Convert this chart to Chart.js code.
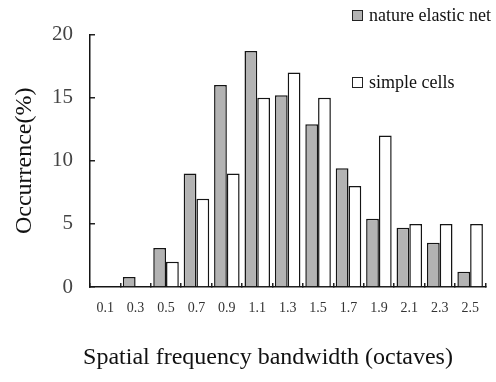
<!DOCTYPE html>
<html>
<head>
<meta charset="utf-8">
<script src="https://cdn.jsdelivr.net/npm/chart.js@4/dist/chart.umd.min.js"></script>
<style>
  html, body { margin: 0; padding: 0; background: #fff; }
  #wrap { width: 496px; height: 382px; }
</style>
</head>
<body>
<div id="wrap"><canvas id="myChart" width="496" height="382"></canvas></div>
<script>
// bandwidth bins (octaves)
const bandwidth = ['0.1', '0.3', '0.5', '0.7', '0.9', '1.1', '1.3', '1.5', '1.7', '1.9', '2.1', '2.3', '2.5'];
// occurrence (%)
const elasticNet = [0, 0.8, 3.1, 9, 16, 18.7, 15.2, 12.9, 9.4, 5.4, 4.7, 3.5, 1.2];
const simpleCells = [0, 0, 2, 7, 9, 15, 17, 15, 8, 12, 5, 5, 5];
const yTicks = [0, 5, 10, 15, 20];

const serif = '"Liberation Serif", "Times New Roman", serif';

// legend entries stacked in the upper right, x axis title under the chart
const annotate = {
  id: 'annotate',
  afterDraw(chart) {
    const c = chart.ctx;
    c.save();
    c.font = '18px ' + serif;
    c.textBaseline = 'middle';
    c.textAlign = 'left';
    const rows = [16, 83];
    chart.data.datasets.forEach((ds, i) => {
      const y = rows[i];
      c.fillStyle = ds.backgroundColor;
      c.fillRect(352, y - 6, 11, 11);
      c.strokeStyle = '#222';
      c.lineWidth = 1;
      c.strokeRect(352.5, y - 5.5, 10, 10);
      c.fillStyle = '#111';
      c.fillText(ds.label, 369, y);
    });
    c.font = '24px ' + serif;
    c.textAlign = 'center';
    c.fillText('Spatial frequency bandwidth (octaves)', 268, 358);
    c.restore();
  }
};

const ctx = document.getElementById('myChart').getContext('2d');
const myChart = new Chart(ctx, {
  type: 'bar',
  data: {
    labels: bandwidth,
    datasets: [{
      label: 'nature elastic net',
      data: elasticNet,
      backgroundColor: '#b3b3b3',
      borderColor: '#151515',
      borderWidth: 1.5
    }, {
      label: 'simple cells',
      data: simpleCells,
      backgroundColor: '#ffffff',
      borderColor: '#151515',
      borderWidth: 1.5
    }]
  },
  options: {
    responsive: false,
    animation: false,
    layout: { padding: { top: 14, right: 3, left: 0, bottom: 0 } },
    datasets: { bar: { categoryPercentage: 0.84, barPercentage: 1 } },
    plugins: { legend: { display: false }, tooltip: { enabled: false } },
    scales: {
      x: {
        grid: { drawOnChartArea: false, drawTicks: true, tickLength: -4, color: '#222', lineWidth: 1.5 },
        border: { display: true, color: '#151515', width: 1.5 },
        ticks: { font: { family: serif, size: 14 }, color: '#333', padding: 17, maxRotation: 0 },
        afterFit(scale) { scale.height = 95; }
      },
      y: {
        min: 0,
        max: 20,
        afterBuildTicks(scale) { scale.ticks = yTicks.map(v => ({ value: v })); },
        grid: { drawOnChartArea: false, drawTicks: true, tickLength: -5, color: '#222', lineWidth: 1.5 },
        border: { display: true, color: '#151515', width: 1.5 },
        ticks: { font: { family: serif, size: 21 }, color: '#444', padding: 22 },
        title: {
          display: true,
          text: 'Occurrence(%)',
          font: { family: serif, size: 24 },
          color: '#111',
          padding: { top: 10, bottom: 0 }
        },
        afterFit(scale) { scale.width = 90; }
      }
    }
  },
  plugins: [annotate]
});
</script>
</body>
</html>
